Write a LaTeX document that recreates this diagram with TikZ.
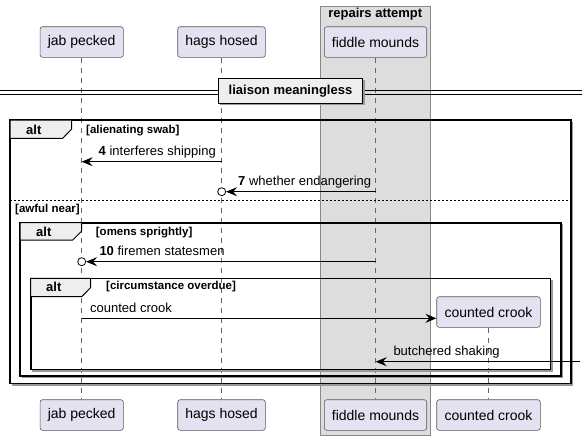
\documentclass[tikz,border=0pt]{standalone}
\usepackage{fontspec}
\setmainfont{Liberation Sans}
\usetikzlibrary{arrows.meta}
\definecolor{partfill}{HTML}{E2E2F0}
\definecolor{partdraw}{HTML}{5A5A5A}
\definecolor{grpfill}{HTML}{DDDDDD}
\definecolor{grpdraw}{HTML}{888888}
\definecolor{tabfill}{HTML}{EEEEEE}
\definecolor{lifecol}{HTML}{666666}
\definecolor{shadowcol}{HTML}{999999}
\begin{document}
\begin{tikzpicture}[x=1pt,y=-1pt,
  part/.style={draw=partdraw, line width=0.6pt, fill=partfill, rounded corners=2.5pt,
    minimum height=30.6pt, inner sep=0pt, font=\fontsize{14}{16}\selectfont},
  life/.style={draw=lifecol, line width=0.6pt, dash pattern=on 5pt off 5pt},
  msg/.style={line width=0.8pt, -{Stealth[length=11pt,width=9pt,inset=4pt]}},
  mlabel/.style={anchor=base west, inner sep=0pt, font=\fontsize{13}{15}\selectfont},
  cond/.style={anchor=base west, inner sep=0pt, font=\fontsize{11.5}{13}\selectfont\bfseries},
  altframe/.style={line width=1.6pt, draw=black},
  altshadow/.style={line width=1.2pt, draw=shadowcol},
  alttab/.style={line width=1pt, draw=black, fill=tabfill},
  tablabel/.style={anchor=base west, inner sep=0pt, font=\fontsize{13}{15}\selectfont\bfseries},
  circ/.style={circle, draw=black, line width=0.8pt, minimum size=8pt, inner sep=0pt, fill=white},
]
\useasboundingbox (0,0) rectangle (586,440);
\fill[white] (0,0) rectangle (586,440);

% group box
\draw[fill=grpfill, draw=grpdraw, line width=0.8pt] (320,6) rectangle (430.7,435);
\node[anchor=base, inner sep=0pt, font=\fontsize{13}{15}\selectfont\bfseries] (grp) at (375.3,17) {repairs attempt};

% participants
\node[part, minimum width=83.3pt] (jabT) at (81.7,42) {jab pecked};
\node[part, minimum width=87.6pt] (hagT) at (221.5,42) {hags hosed};
\node[part, minimum width=102.4pt] (fidT) at (375.5,42) {fiddle mounds};
\node[part, minimum width=83.3pt] (jabB) at (81.7,415) {jab pecked};
\node[part, minimum width=87.6pt] (hagB) at (221.5,415) {hags hosed};
\node[part, minimum width=102.4pt] (fidB) at (375.5,415) {fiddle mounds};
\node[part, minimum width=103.6pt] (crkT) at (488.5,312) {counted crook};
\node[part, minimum width=103.6pt] (crkB) at (488.5,415) {counted crook};

% lifelines
\draw[life] (jabT.south) -- (jabB.north);
\draw[life] (hagT.south) -- (hagB.north);
\draw[life] (fidT.south) -- (fidB.north);
\draw[life] (crkT.south) -- (crkB.north);

% divider
\draw[line width=1pt] (0,90) -- (582,90);
\draw[line width=1pt] (0,94) -- (582,94);
\fill[shadowcol] (220.3,80.3) rectangle (364.7,105.3);
\node[draw=black, fill=tabfill, line width=1.5pt, minimum width=144.4pt, minimum height=25pt,
  inner sep=0pt, font=\fontsize{13}{15}\selectfont\bfseries] (div) at (290.5,90.8) {liaison meaningless};

% frames (shadow on right and bottom only)
\draw[altshadow] (11.5,384.9) -- (572.6,384.9) -- (572.6,121.5);
\draw[altframe] (10,120) rectangle (571,383.3);
\draw[altshadow] (21.5,377.3) -- (562.3,377.3) -- (562.3,224.2);
\draw[altframe] (20,222.7) rectangle (560.7,375.7);
\draw[altshadow] (32.2,370.9) -- (551.9,370.9) -- (551.9,279.8);
\draw[altframe] (30.7,278.3) rectangle (550.3,369.3);

% tabs
\draw[alttab] (10,120) -- (71.7,120) -- (71.7,129) -- (62.7,138.3) -- (10,138.3) -- cycle;
\node[tablabel] (t1) at (26,134.5) {alt};
\draw[alttab] (20,222.7) -- (81.7,222.7) -- (81.7,231) -- (72.7,240) -- (20,240) -- cycle;
\node[tablabel] (t2) at (36,236.5) {alt};
\draw[alttab] (30.7,278.3) -- (90.7,278.3) -- (90.7,287.5) -- (81.7,296.7) -- (30.7,296.7) -- cycle;
\node[tablabel] (t3) at (46,291.5) {alt};

% conditions
\node[cond] (c1) at (86,133) {[alienating swab]};
\node[cond] (c2) at (15,212.8) {[awful near]};
\node[cond] (c3) at (95.7,235) {[omens sprightly]};
\node[cond] (c4) at (106,289.5) {[circumstance overdue]};

% else separator
\draw[line width=0.8pt, dash pattern=on 2pt off 2pt] (10,200.3) -- (571,200.3);

% messages
\coordinate (h4) at (221.7,161.7);
\coordinate (j4) at (81.7,161.7);
\draw[msg] (h4) -- (j4);
\node[mlabel] (l4) at (98.5,155.7) {\textbf{4} interferes shipping};

\coordinate (f7) at (375.7,191.7);
\node[circ] (o7) at (221.7,191.7) {};
\draw[msg] (f7) -- (o7);
\node[mlabel] (l7) at (238,185.7) {\textbf{7} whether endangering};

\coordinate (f10) at (375.7,261.7);
\node[circ] (o10) at (81.7,261.7) {};
\draw[msg] (f10) -- (o10);
\node[mlabel] (l10) at (99.3,255.7) {\textbf{10} firemen statesmen};

\coordinate (j11) at (81.7,318.3);
\draw[msg] (j11) -- (j11 -| crkT.west);
\node[mlabel] (l11) at (90,312.3) {counted crook};

\coordinate (e12) at (580,361.7);
\coordinate (f12) at (375.7,361.7);
\draw[msg] (e12) -- (f12);
\node[mlabel] (l12) at (393.3,355.7) {butchered shaking};
\end{tikzpicture}
\end{document}
